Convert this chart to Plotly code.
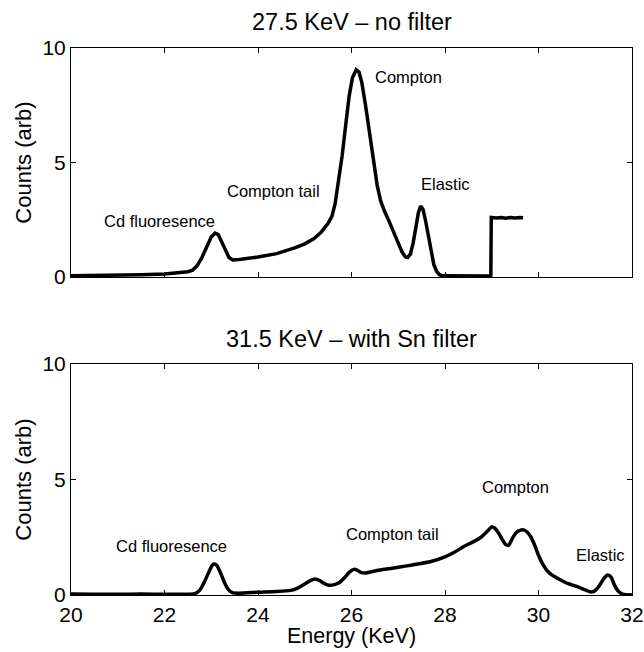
import plotly.graph_objects as go
from plotly.subplots import make_subplots

# Top spectrum: 27.5 KeV - no filter
top_energy = [20.0, 20.5, 21.0, 21.5, 22.0, 22.3, 22.5, 22.6, 22.7, 22.8, 22.9, 23.0, 23.08, 23.15,
              23.22, 23.3, 23.38, 23.46, 23.6, 24.0, 24.4, 24.8, 25.0, 25.2, 25.35, 25.5, 25.58,
              25.65, 25.72, 25.8, 25.88, 25.95, 26.02, 26.1, 26.16, 26.22, 26.3, 26.38, 26.46,
              26.55, 26.62, 26.7, 26.8, 26.9, 27.0, 27.08, 27.15, 27.2, 27.26, 27.32, 27.38,
              27.43, 27.48, 27.53, 27.58, 27.64, 27.7, 27.76, 27.82, 27.88, 27.95, 28.5, 28.98,
              28.99, 29.1, 29.2, 29.3, 29.4, 29.5, 29.6, 29.67]
top_counts = [0.05, 0.06, 0.08, 0.1, 0.13, 0.17, 0.23, 0.3, 0.5, 0.85, 1.3, 1.75, 1.92, 1.85,
              1.55, 1.15, 0.85, 0.74, 0.76, 0.87, 1.02, 1.28, 1.45, 1.68, 1.95, 2.35, 2.65,
              3.2, 4.1, 5.3, 6.7, 7.9, 8.7, 9.05, 8.95, 8.5, 7.5, 6.3, 5.1,
              4.0, 3.35, 2.9, 2.45, 2.0, 1.5, 1.1, 0.88, 0.85, 1.0, 1.5, 2.2,
              2.8, 3.1, 2.95, 2.5, 1.8, 1.1, 0.55, 0.25, 0.1, 0.05, 0.04, 0.04,
              2.6, 2.58, 2.6, 2.57, 2.6, 2.58, 2.6, 2.59]

# Bottom spectrum: 31.5 KeV - with Sn filter
bot_energy = [20.0, 20.5, 21.0, 21.5, 22.0, 22.4, 22.65, 22.75, 22.85, 22.95, 23.02, 23.06, 23.12,
              23.2, 23.28, 23.36, 23.45, 23.6, 24.0, 24.4, 24.7, 24.85, 25.0, 25.12, 25.22, 25.32,
              25.42, 25.52, 25.65, 25.75, 25.85, 25.95, 26.05, 26.12, 26.2, 26.3, 26.45, 26.67,
              27.0, 27.3, 27.7, 28.0, 28.2, 28.42, 28.6, 28.77, 28.9, 29.0, 29.06, 29.14, 29.22,
              29.3, 29.36, 29.44, 29.52, 29.6, 29.68, 29.76, 29.84, 29.92, 30.0, 30.1, 30.2,
              30.3, 30.45, 30.62, 30.8, 31.0, 31.12, 31.2, 31.3, 31.4, 31.48, 31.55, 31.62,
              31.7, 31.8, 32.0]
bot_counts = [0.04, 0.03, 0.03, 0.04, 0.03, 0.03, 0.06, 0.2, 0.55, 1.0, 1.28, 1.34, 1.28,
              0.95, 0.55, 0.25, 0.1, 0.08, 0.12, 0.15, 0.2, 0.3, 0.48, 0.62, 0.69, 0.62,
              0.5, 0.42, 0.46, 0.55, 0.75, 0.98, 1.11, 1.08, 0.98, 0.95, 1.02, 1.1,
              1.2, 1.3, 1.45, 1.65, 1.85, 2.12, 2.3, 2.5, 2.75, 2.95, 2.9, 2.7, 2.42,
              2.18, 2.15, 2.45, 2.7, 2.8, 2.82, 2.72, 2.5, 2.15, 1.72, 1.3, 1.02,
              0.85, 0.68, 0.5, 0.38, 0.22, 0.13, 0.17, 0.4, 0.72, 0.87, 0.78, 0.45,
              0.18, 0.04, 0.0]

top_labels = ["Compton", "Elastic", "Compton tail", "Cd fluoresence"]
top_label_x = [26.45, 28.01, 24.34, 21.89]
top_label_y = [8.72, 4.07, 3.77, 2.43]
top_label_anchor = ["left", "center", "center", "center"]

bot_labels = ["Compton", "Compton tail", "Cd fluoresence", "Elastic"]
bot_label_x = [29.5, 26.87, 22.16, 31.33]
bot_label_y = [4.69, 2.63, 2.14, 1.73]

titles = ["27.5 KeV – no filter", "31.5 KeV – with Sn filter"]
x_title = "Energy (KeV)"
y_title = "Counts (arb)"
x_ticks = [20, 22, 24, 26, 28, 30, 32]
y_ticks = [0, 5, 10]

FONT = "Liberation Sans, Arial, Helvetica, sans-serif"

fig = make_subplots(rows=2, cols=1, vertical_spacing=0.16)
fig.add_trace(go.Scatter(x=top_energy, y=top_counts, mode="lines",
                         line=dict(color="black", width=3.5, shape="linear"),
                         showlegend=False), row=1, col=1)
fig.add_trace(go.Scatter(x=bot_energy, y=bot_counts, mode="lines",
                         line=dict(color="black", width=3.5, shape="spline", smoothing=0.6),
                         showlegend=False), row=2, col=1)

axis_common = dict(showline=True, linecolor="black", linewidth=1, mirror="ticks",
                   ticks="inside", ticklen=5, tickwidth=1, tickcolor="black",
                   showgrid=False, zeroline=False, automargin=False,
                   tickfont=dict(family=FONT, size=21, color="black"))

top_dom = [(595 - 277) / 547, 1.0]
bot_dom = [0.0, (595 - 364) / 547]

fig.update_layout(
    width=644, height=652,
    margin=dict(l=71, r=12, t=48, b=57),
    paper_bgcolor="white", plot_bgcolor="white",
    font=dict(family=FONT, color="black"),
    xaxis=dict(range=[20, 32], tickvals=x_ticks, showticklabels=False, **axis_common),
    xaxis2=dict(range=[20, 32], tickvals=x_ticks, ticktext=[str(t) for t in x_ticks],
                ticklabelstandoff=1, ticklabeloverflow="allow", **axis_common),
    yaxis=dict(range=[0, 10], tickvals=y_ticks, domain=top_dom,
               title=dict(text=y_title, font=dict(family=FONT, size=22), standoff=4),
               **axis_common),
    yaxis2=dict(range=[0, 10], tickvals=y_ticks, domain=bot_dom,
                title=dict(text=y_title, font=dict(family=FONT, size=22), standoff=4),
                **axis_common),
)

for txt, x, y, anc in zip(top_labels, top_label_x, top_label_y, top_label_anchor):
    fig.add_annotation(x=x, y=y, xref="x", yref="y", text=txt, showarrow=False,
                       xanchor=anc, font=dict(family=FONT, size=16.5, color="black"))
for txt, x, y in zip(bot_labels, bot_label_x, bot_label_y):
    fig.add_annotation(x=x, y=y, xref="x2", yref="y2", text=txt, showarrow=False,
                       font=dict(family=FONT, size=16.5, color="black"))

fig.add_annotation(x=0.5, y=1.0, xref="paper", yref="paper", yshift=26, yanchor="middle",
                   text=titles[0], showarrow=False,
                   font=dict(family=FONT, size=23.5, color="black"))
fig.add_annotation(x=0.5, y=bot_dom[1], xref="paper", yref="paper", yshift=25, yanchor="middle",
                   text=titles[1], showarrow=False,
                   font=dict(family=FONT, size=23.5, color="black"))
fig.add_annotation(x=0.5, y=0.0, xref="paper", yref="paper", yshift=-41, yanchor="middle",
                   text=x_title, showarrow=False,
                   font=dict(family=FONT, size=21.5, color="black"))

fig.write_html("out.html")
